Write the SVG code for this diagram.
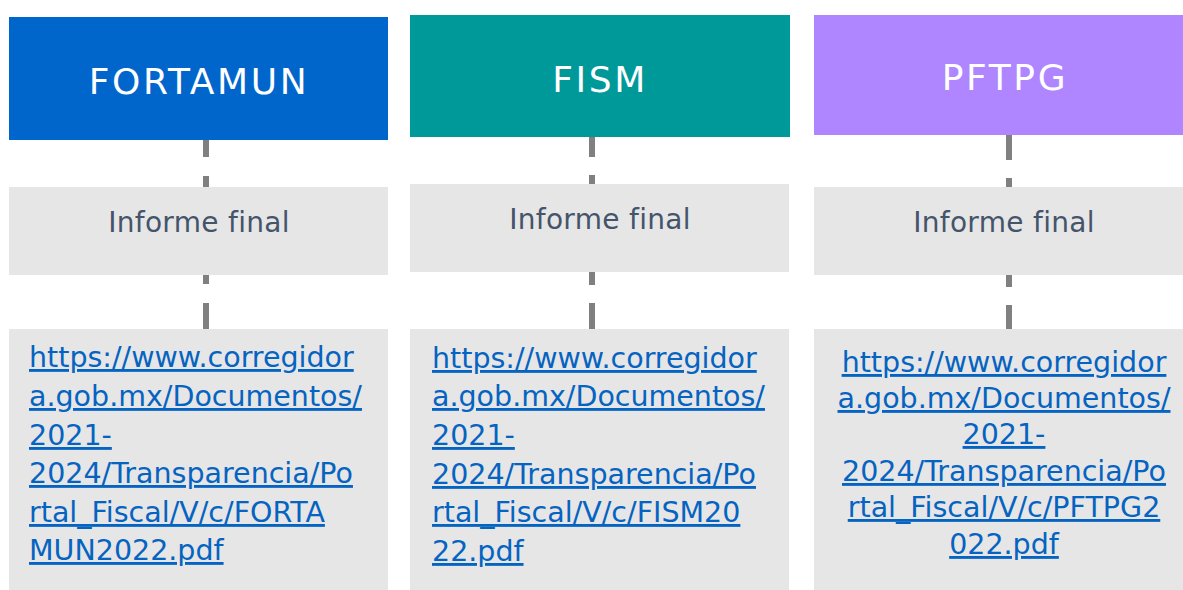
<svg xmlns="http://www.w3.org/2000/svg" width="1183" height="590" viewBox="0 0 1183 590">
<style>
.hdr{font-family:"DejaVu Sans","Liberation Sans",sans-serif;font-size:36px;fill:#FFFFFF;text-anchor:middle;letter-spacing:2.6px}
.sub{font-family:"DejaVu Sans","Liberation Sans",sans-serif;font-size:28px;fill:#44546A;text-anchor:middle;letter-spacing:0.3px}
.link{font-family:"DejaVu Sans","Liberation Sans",sans-serif;font-size:28.5px;fill:#0563C1;text-decoration:underline}
.mid{text-anchor:middle}
.gray{fill:#E6E6E6}
.conn{stroke:#808080;stroke-width:6;fill:none}
</style>
<rect width="1183" height="590" fill="#FFFFFF"/>
<g id="connectors">
<path class="conn" d="M206 140V157M206 176V187M206 275V284M206 303V329"/>
<path class="conn" d="M592 137V157M592 175V184M592 272V285M592 303V329"/>
<path class="conn" d="M1009 135V160M1009 178V187M1009 275V287M1009 305V329"/>
</g>
<g id="fortamun">
<rect x="9" y="17" width="379" height="123" fill="#0066CC"/>
<text class="hdr" x="199" y="94">FORTAMUN</text>
</g>
<g id="fortamun-informe">
<rect class="gray" x="9" y="187" width="379" height="88"/>
<text class="sub" x="199" y="232">Informe final</text>
</g>
<g id="fortamun-link">
<rect class="gray" x="9" y="329" width="379" height="261"/>
<text class="link" x="29" y="367">https://www.corregidor</text>
<text class="link" x="29" y="406">a.gob.mx/Documentos/</text>
<text class="link" x="29" y="445">2021-</text>
<text class="link" x="29" y="483">2024/Transparencia/Po</text>
<text class="link" x="29" y="522">rtal_Fiscal/V/c/FORTA</text>
<text class="link" x="29" y="560">MUN2022.pdf</text>
</g>
<g id="fism">
<rect x="410" y="15" width="380" height="122" fill="#009999"/>
<text class="hdr" x="600" y="92">FISM</text>
</g>
<g id="fism-informe">
<rect class="gray" x="410" y="184" width="379" height="88"/>
<text class="sub" x="600" y="229">Informe final</text>
</g>
<g id="fism-link">
<rect class="gray" x="410" y="329" width="379" height="261"/>
<text class="link" x="432" y="368">https://www.corregidor</text>
<text class="link" x="432" y="406">a.gob.mx/Documentos/</text>
<text class="link" x="432" y="445">2021-</text>
<text class="link" x="432" y="484">2024/Transparencia/Po</text>
<text class="link" x="432" y="522">rtal_Fiscal/V/c/FISM20</text>
<text class="link" x="432" y="561">22.pdf</text>
</g>
<g id="pftpg">
<rect x="814" y="15" width="369" height="120" fill="#AF86FF"/>
<text class="hdr" x="1005" y="90">PFTPG</text>
</g>
<g id="pftpg-informe">
<rect class="gray" x="814" y="187" width="369" height="88"/>
<text class="sub" x="1004" y="232">Informe final</text>
</g>
<g id="pftpg-link">
<rect class="gray" x="814" y="329" width="369" height="261"/>
<text class="link mid" x="1004" y="372">https://www.corregidor</text>
<text class="link mid" x="1004" y="408">a.gob.mx/Documentos/</text>
<text class="link mid" x="1004" y="444">2021-</text>
<text class="link mid" x="1004" y="481">2024/Transparencia/Po</text>
<text class="link mid" x="1004" y="517">rtal_Fiscal/V/c/PFTPG2</text>
<text class="link mid" x="1004" y="554">022.pdf</text>
</g>
</svg>
